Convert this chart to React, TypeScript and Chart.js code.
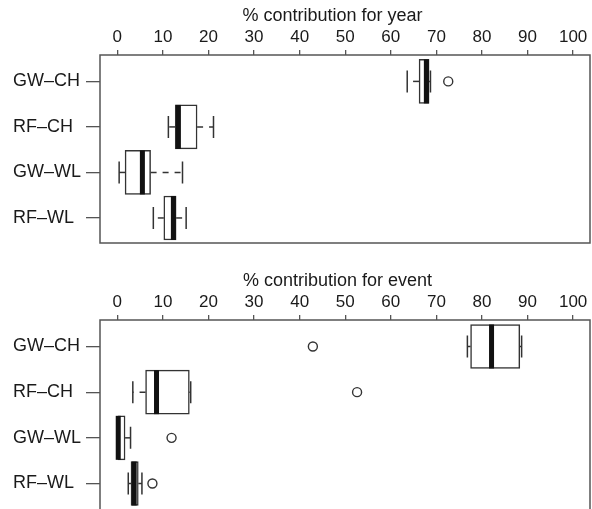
import React, { useEffect, useRef } from "react";
import { Chart, registerables } from "chart.js";

Chart.register(...registerables);

const categories = ["GW–CH", "RF–CH", "GW–WL", "RF–WL"];
const xTicks = [0, 10, 20, 30, 40, 50, 60, 70, 80, 90, 100];

const yearLow = [63.6, 11.2, 0.4, 7.9];
const yearQ1 = [66.2, 12.7, 1.7, 10.2];
const yearMedian = [67.8, 13.4, 5.5, 12.3];
const yearQ3 = [68.4, 17.5, 7.3, 12.9];
const yearHigh = [68.7, 21.1, 14.3, 15.1];
const yearOutliers = [[72.6], [], [], []];

const eventLow = [76.8, 3.4, 0.0, 2.4];
const eventQ1 = [77.5, 6.2, 0.0, 3.0];
const eventMedian = [82.1, 8.6, 0.2, 3.7];
const eventQ3 = [88.3, 15.8, 1.7, 4.6];
const eventHigh = [88.7, 16.1, 2.9, 5.4];
const eventOutliers = [[42.9], [52.6], [11.9], [7.7]];

const FONT = "'Liberation Sans', Arial, Helvetica, sans-serif";
const TEXT = "#1a1a1a";
const LINE = "#333333";
const FRAME = "#555555";
const BOX_PX = 44;

type BoxSet = {
  title: string;
  low: number[];
  q1: number[];
  median: number[];
  q3: number[];
  high: number[];
  outliers: number[][];
  scaleHeight: number;
  titlePadTop: number;
  padBottom: number;
  yMax: number;
};

function makeConfig(s: BoxSet): any {
  const boxData = categories.map((_, i) => ({ y: i + 1, x: [s.q1[i], s.q3[i]] }));
  const outlierData: { x: number; y: number }[] = [];
  s.outliers.forEach((arr, i) => arr.forEach((v) => outlierData.push({ x: v, y: i + 1 })));

  const whiskerPlugin = {
    id: "whiskers",
    afterDatasetsDraw(chart: any) {
      const { ctx, scales } = chart;
      const xs = scales.x;
      const ys = scales.y;
      ctx.save();
      ctx.strokeStyle = LINE;
      ctx.lineWidth = 1.5;
      categories.forEach((_, i) => {
        const y = ys.getPixelForValue(i + 1);
        const xl = xs.getPixelForValue(s.low[i]);
        const x1 = xs.getPixelForValue(s.q1[i]);
        const x3 = xs.getPixelForValue(s.q3[i]);
        const xh = xs.getPixelForValue(s.high[i]);
        const xm = xs.getPixelForValue(s.median[i]);
        ctx.setLineDash([6, 6]);
        if (x1 - xl > 0.5) {
          ctx.beginPath();
          ctx.moveTo(x1, y);
          ctx.lineTo(xl, y);
          ctx.stroke();
        }
        if (xh - x3 > 0.5) {
          ctx.beginPath();
          ctx.moveTo(x3, y);
          ctx.lineTo(xh, y);
          ctx.stroke();
        }
        ctx.setLineDash([]);
        const cap = BOX_PX / 4;
        ctx.beginPath();
        ctx.moveTo(xl, y - cap);
        ctx.lineTo(xl, y + cap);
        ctx.moveTo(xh, y - cap);
        ctx.lineTo(xh, y + cap);
        ctx.stroke();
        ctx.fillStyle = "#111111";
        ctx.fillRect(xm - 2.5, y - BOX_PX / 2, 5, BOX_PX);
      });
      const a = chart.chartArea;
      ctx.strokeStyle = FRAME;
      ctx.lineWidth = 1.5;
      ctx.strokeRect(a.left, a.top, a.right - a.left, a.bottom - a.top);
      ctx.restore();
    },
  };

  return {
    type: "bar",
    data: {
      datasets: [
        {
          type: "bar",
          indexAxis: "y",
          data: boxData,
          backgroundColor: "#ffffff",
          borderColor: LINE,
          borderWidth: 1.5,
          borderSkipped: false,
          barThickness: BOX_PX,
        },
        {
          type: "scatter",
          indexAxis: "x",
          data: outlierData,
          pointRadius: 4.5,
          pointBorderWidth: 1.4,
          pointBackgroundColor: "rgba(0,0,0,0)",
          pointBorderColor: LINE,
          showLine: false,
        },
      ],
    },
    options: {
      animation: false,
      responsive: false,
      indexAxis: "y",
      layout: { padding: { left: 13, right: 6, top: 0, bottom: s.padBottom } },
      plugins: { legend: { display: false }, tooltip: { enabled: false } },
      scales: {
        x: {
          type: "linear",
          position: "top",
          min: -3.8,
          max: 103.7,
          offset: false,
          afterBuildTicks: (sc: any) => {
            sc.ticks = xTicks.map((v) => ({ value: v }));
          },
          afterFit: (sc: any) => {
            sc.height = s.scaleHeight;
            sc.paddingLeft = 0;
            sc.paddingRight = 0;
            sc.paddingTop = 0;
            sc.paddingBottom = 0;
          },
          ticks: {
            autoSkip: false,
            maxRotation: 0,
            padding: 2,
            color: TEXT,
            font: { family: FONT, size: 17 },
            callback: (v: any) => String(v),
          },
          grid: {
            drawOnChartArea: false,
            drawTicks: true,
            tickLength: 5,
            offset: false,
            color: FRAME,
            lineWidth: 1.3,
          },
          border: { display: false },
          title: {
            display: true,
            text: s.title,
            color: TEXT,
            font: { family: FONT, size: 18 },
            padding: { top: s.titlePadTop, bottom: 0 },
          },
        },
        y: {
          type: "linear",
          position: "left",
          reverse: true,
          min: 0.42,
          max: s.yMax,
          offset: false,
          afterBuildTicks: (sc: any) => {
            sc.ticks = categories.map((_, i) => ({ value: i + 1 }));
          },
          afterFit: (sc: any) => {
            sc.width = 87;
            sc.paddingLeft = 0;
            sc.paddingRight = 0;
            sc.paddingTop = 0;
            sc.paddingBottom = 0;
          },
          ticks: {
            autoSkip: false,
            crossAlign: "far",
            color: TEXT,
            font: { family: FONT, size: 18 },
            callback: (v: any) => categories[Math.round(v) - 1],
          },
          grid: {
            drawOnChartArea: false,
            drawTicks: true,
            tickLength: 14,
            offset: false,
            color: FRAME,
            lineWidth: 1.3,
          },
          border: { display: false },
        },
      },
    },
    plugins: [whiskerPlugin],
  };
}

const yearSet: BoxSet = {
  title: "% contribution for year     ",
  low: yearLow,
  q1: yearQ1,
  median: yearMedian,
  q3: yearQ3,
  high: yearHigh,
  outliers: yearOutliers,
  scaleHeight: 55,
  titlePadTop: 5,
  padBottom: 7,
  yMax: 4.55,
};

const eventSet: BoxSet = {
  title: "% contribution for event   ",
  low: eventLow,
  q1: eventQ1,
  median: eventMedian,
  q3: eventQ3,
  high: eventHigh,
  outliers: eventOutliers,
  scaleHeight: 70,
  titlePadTop: 20,
  padBottom: 6,
  yMax: 4.58,
};

export default function App() {
  const topRef = useRef<HTMLCanvasElement | null>(null);
  const botRef = useRef<HTMLCanvasElement | null>(null);

  useEffect(() => {
    const c1 = new Chart(topRef.current as HTMLCanvasElement, makeConfig(yearSet));
    const c2 = new Chart(botRef.current as HTMLCanvasElement, makeConfig(eventSet));
    return () => {
      c1.destroy();
      c2.destroy();
    };
  }, []);

  return (
    <div
      style={{
        position: "fixed",
        left: 0,
        top: 0,
        width: 592,
        height: 509,
        overflow: "hidden",
        background: "#ffffff",
      }}
    >
      <canvas ref={topRef} width={596} height={250} style={{ display: "block" }} />
      <canvas ref={botRef} width={596} height={266} style={{ display: "block" }} />
    </div>
  );
}
